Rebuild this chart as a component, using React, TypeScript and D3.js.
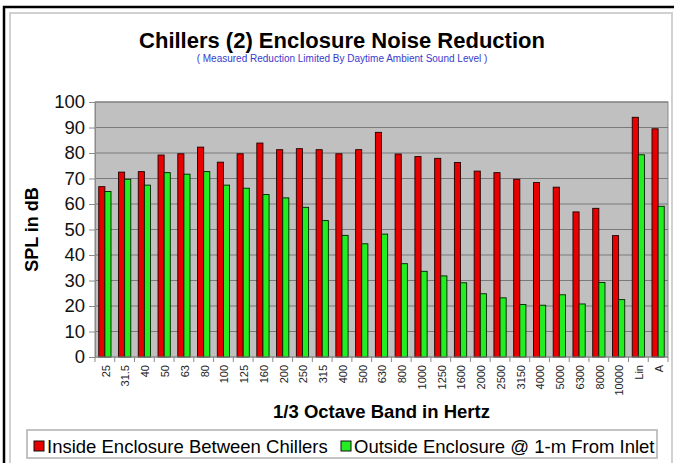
import React, { useEffect, useRef } from 'react';
import * as d3 from 'd3';

const bands = ['25', '31.5', '40', '50', '63', '80', '100', '125', '160', '200', '250', '315', '400', '500', '630', '800', '1000', '1250', '1600', '2000', '2500', '3150', '4000', '5000', '6300', '8000', '10000', 'Lin', 'A'];
const inside = [66.8, 72.5, 72.7, 79.2, 79.7, 82.3, 76.4, 79.7, 83.9, 81.3, 81.7, 81.3, 79.7, 81.3, 88.1, 79.6, 78.6, 77.9, 76.3, 72.9, 72.3, 69.7, 68.4, 66.6, 56.9, 58.3, 47.6, 94.0, 89.5];
const outside = [64.9, 69.7, 67.4, 72.3, 71.7, 72.7, 67.4, 66.2, 63.7, 62.4, 58.7, 53.5, 47.7, 44.4, 48.2, 36.6, 33.6, 31.8, 29.1, 24.8, 23.2, 20.6, 20.3, 24.4, 20.8, 29.2, 22.5, 79.3, 59.1];
const yTicks = [0, 10, 20, 30, 40, 50, 60, 70, 80, 90, 100];
const seriesNames = ['Inside Enclosure Between Chillers', 'Outside Enclosure @ 1-m From Inlet'];

const W = 674;
const H = 463;

function App() {
  const svgRef = useRef<SVGSVGElement>(null);

  useEffect(() => {
    const svg = d3.select(svgRef.current);
    svg.selectAll('*').remove();

    const left = 95, right = 668, top = 102, bottom = 357;
    const font = 'Arial, "Liberation Sans", sans-serif';

    // frame
    svg.append('rect').attr('width', W).attr('height', H).attr('fill', 'white');
    svg.append('rect').attr('x', 10).attr('y', 13).attr('width', W - 12).attr('height', H)
      .attr('fill', 'none').attr('stroke', '#d0d0d0').attr('stroke-width', 2);
    svg.append('path').attr('d', `M4,${H} V7 H${W}`)
      .attr('fill', 'none').attr('stroke', 'black').attr('stroke-width', 2.5);

    // titles
    svg.append('text').attr('x', 342).attr('y', 48).attr('text-anchor', 'middle')
      .style('font-family', font).style('font-size', '22px').style('font-weight', 'bold')
      .text('Chillers (2) Enclosure Noise Reduction');
    svg.append('text').attr('x', 342).attr('y', 62).attr('text-anchor', 'middle')
      .style('font-family', font).style('font-size', '10px').attr('fill', '#3a3acc')
      .text('( Measured Reduction Limited By Daytime Ambient Sound Level )');

    const x = d3.scaleBand().domain(bands).range([left, right]);
    const y = d3.scaleLinear().domain([0, 100]).range([bottom, top]);
    const barW = x.bandwidth() * 0.31;

    // plot background
    svg.append('rect').attr('x', left).attr('y', top).attr('width', right - left).attr('height', bottom - top)
      .attr('fill', '#c0c0c0').attr('stroke', '#8a8a8a');

    // gridlines
    svg.append('g').selectAll('line').data(yTicks.slice(1)).join('line')
      .attr('x1', left).attr('x2', right).attr('y1', d => y(d)).attr('y2', d => y(d))
      .attr('stroke', '#7a7a7a').attr('stroke-width', 1);

    // bars
    const groups = svg.append('g').selectAll('g').data(bands).join('g')
      .attr('transform', d => `translate(${x(d)! + x.bandwidth() / 2},0)`);
    groups.append('rect')
      .attr('x', -barW).attr('width', barW)
      .attr('y', (d, i) => y(inside[i])).attr('height', (d, i) => bottom - y(inside[i]))
      .attr('fill', '#e80000').attr('stroke', '#200000').attr('stroke-width', 0.9);
    groups.append('rect')
      .attr('x', 0).attr('width', barW)
      .attr('y', (d, i) => y(outside[i])).attr('height', (d, i) => bottom - y(outside[i]))
      .attr('fill', '#22ee22').attr('stroke', '#002000').attr('stroke-width', 0.9);

    // axes
    const yAxis = svg.append('g').attr('transform', `translate(${left},0)`)
      .call(d3.axisLeft(y).tickValues(yTicks).tickSize(6).tickPadding(4));
    yAxis.select('.domain').attr('stroke', '#8a8a8a');
    yAxis.selectAll('line').attr('stroke', '#8a8a8a');
    yAxis.selectAll('text').style('font-family', font).style('font-size', '18.5px').attr('fill', '#111');

    const xAxis = svg.append('g').attr('transform', `translate(0,${bottom})`);
    xAxis.append('line').attr('x1', left).attr('x2', right).attr('stroke', '#8a8a8a');
    xAxis.selectAll('line.tick').data(d3.range(bands.length + 1)).join('line')
      .attr('class', 'tick')
      .attr('x1', i => left + i * x.step()).attr('x2', i => left + i * x.step())
      .attr('y1', 0).attr('y2', 5).attr('stroke', '#8a8a8a');
    xAxis.selectAll('text').data(bands).join('text')
      .attr('transform', d => `translate(${x(d)! + x.bandwidth() / 2 + 1},8) rotate(-90)`)
      .attr('text-anchor', 'end').attr('dy', '0.35em')
      .style('font-family', font).style('font-size', '11px').attr('fill', '#222')
      .text(d => d);

    // axis titles
    svg.append('text').attr('transform', `translate(38,${(top + bottom) / 2}) rotate(-90)`)
      .attr('text-anchor', 'middle')
      .style('font-family', font).style('font-size', '18px').style('font-weight', 'bold')
      .text('SPL in dB');
    svg.append('text').attr('x', (left + right) / 2).attr('y', 418).attr('text-anchor', 'middle')
      .style('font-family', font).style('font-size', '18.5px').style('font-weight', 'bold')
      .text('1/3 Octave Band in Hertz');

    // legend
    svg.append('rect').attr('x', 27).attr('y', 430).attr('width', 630).attr('height', 28)
      .attr('fill', 'white').attr('stroke', '#b0b0b0').attr('stroke-width', 1.5);
    const legendX = [34, 341];
    const colors = ['#e80000', '#22ee22'];
    seriesNames.forEach((name, i) => {
      svg.append('rect').attr('x', legendX[i]).attr('y', 441).attr('width', 10).attr('height', 10)
        .attr('fill', colors[i]).attr('stroke', '#111');
      svg.append('text').attr('x', legendX[i] + 13).attr('y', 453)
        .style('font-family', font).style('font-size', '18.5px').text(name);
    });
  }, []);

  return <svg ref={svgRef} width={W} height={H} style={{ position: 'absolute', left: 0, top: 0 }} />;
}

export default App;
